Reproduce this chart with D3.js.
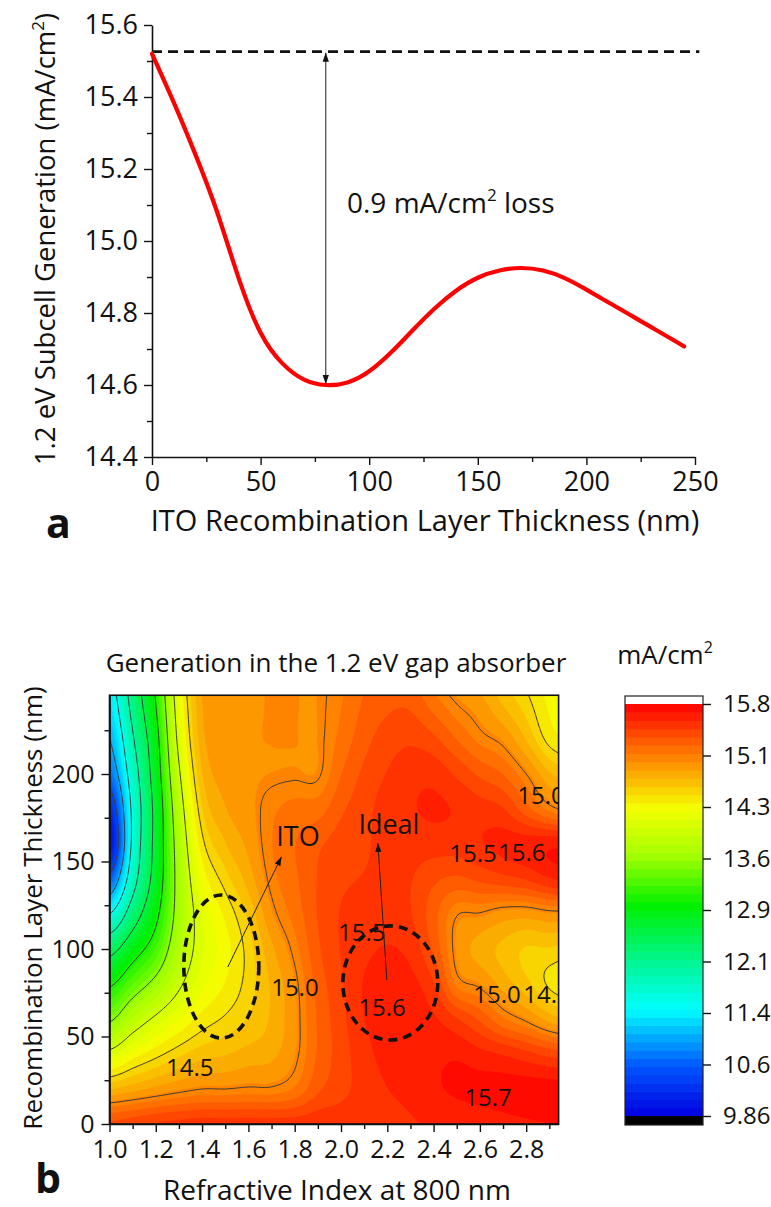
<!DOCTYPE html>
<html>
<head>
<meta charset="utf-8">
<script src="https://cdn.jsdelivr.net/npm/d3@7"></script>
<style>
  body { margin: 0; background: #fff; }
  svg { display: block; font-family: "Open Sans", sans-serif; }
</style>
</head>
<body>
<svg id="chart" width="771" height="1207"></svg>
<script>
// ---------- Panel a: 1.2 eV subcell generation vs ITO thickness ----------
const itoThickness = [0,10,20,30,40,50,60,70,80,90,100,110,120,130,140,150,160,170,180,190,200,210,220,230,240,245];
const subcellGeneration = [15.52,15.385,15.24,15.08,14.895,14.745,14.66,14.615,14.60,14.607,14.638,14.69,14.752,14.812,14.862,14.898,14.918,14.925,14.918,14.897,14.865,14.83,14.795,14.76,14.725,14.707];
const noLayerLevel = 15.526;       // generation without a recombination layer
const lossMinimum = [80, 14.60];   // thickness, generation at the arrow
const axisATicksY = [14.4,14.6,14.8,15.0,15.2,15.4,15.6];
const axisATicksX = [0,50,100,150,200,250];

// ---------- Panel b: generation map (rows: refractive index, columns: thickness) ----------
const refractiveIndex = [1.0,1.1,1.2,1.3,1.4,1.5,1.6,1.7,1.8,1.9,2.0,2.1,2.2,2.3,2.4,2.5,2.6,2.7,2.8,2.9,3.0];
const layerThickness = [0,20,40,60,80,100,120,140,160,180,200,220,240,260];
const generationMap = [
  [15.35,14.72,14.08,13.45,12.95,12.35,11.5,10.6,9.95,10.2,10.7,11.0,11.25,11.4],
  [15.4,14.8,14.3,13.8,13.3,12.8,12.25,11.8,11.6,11.6,11.75,11.95,12.15,12.3],
  [15.45,14.88,14.45,14.05,13.6,13.2,12.9,12.7,12.65,12.65,12.75,12.85,13.0,13.1],
  [15.48,14.95,14.58,14.25,13.95,13.75,13.65,13.65,13.7,13.8,13.95,14.1,14.2,14.3],
  [15.5,15.0,14.68,14.42,14.22,14.12,14.15,14.28,14.45,14.6,14.72,14.8,14.84,14.86],
  [15.5,15.0,14.72,14.52,14.38,14.32,14.4,14.56,14.72,14.84,14.9,14.92,14.93,14.93],
  [15.5,15.02,14.78,14.62,14.55,14.55,14.64,14.78,14.88,14.93,14.95,14.96,14.96,14.96],
  [15.5,15.02,14.82,14.75,14.75,14.82,14.95,15.04,15.08,15.06,14.97,14.97,14.97,14.97],
  [15.5,15.1,14.96,14.94,14.96,15.04,15.13,15.18,15.2,15.13,14.98,14.97,14.97,14.97],
  [15.52,15.3,15.22,15.22,15.25,15.3,15.33,15.33,15.3,15.15,14.98,14.97,14.97,14.97],
  [15.52,15.4,15.38,15.4,15.42,15.45,15.45,15.42,15.38,15.3,15.2,15.12,15.08,15.05],
  [15.52,15.5,15.52,15.56,15.57,15.53,15.48,15.45,15.42,15.4,15.35,15.28,15.22,15.18],
  [15.52,15.56,15.6,15.62,15.62,15.57,15.5,15.48,15.5,15.5,15.45,15.38,15.3,15.25],
  [15.55,15.6,15.62,15.62,15.6,15.52,15.45,15.45,15.5,15.55,15.52,15.42,15.3,15.2],
  [15.58,15.66,15.65,15.58,15.45,15.3,15.25,15.35,15.5,15.58,15.52,15.35,15.15,15.0],
  [15.6,15.7,15.66,15.45,15.06,14.95,15.01,15.3,15.5,15.55,15.42,15.2,15.0,14.85],
  [15.62,15.72,15.6,15.3,14.97,14.8,14.99,15.35,15.55,15.5,15.3,15.05,14.9,14.75],
  [15.65,15.73,15.55,15.1,14.8,14.7,14.92,15.4,15.6,15.45,15.2,14.95,14.72,14.58],
  [15.67,15.74,15.48,14.97,14.65,14.6,14.9,15.45,15.62,15.25,15.0,14.72,14.55,14.45],
  [15.68,15.74,15.4,14.8,14.48,14.6,14.95,15.55,15.65,15.05,14.75,14.45,14.35,14.3],
  [15.68,15.74,15.35,14.7,14.42,14.55,14.95,15.6,15.65,14.95,14.65,14.35,14.25,14.2]
];
const contourLineLevels = [10.5,11.0,11.5,12.0,12.5,13.0,13.5,14.0,14.5,15.0];
const contourLabelText = ["15.0","14.5","15.5","15.6","15.5","15.6","15.7","15.0","15.0","14.5"];
const contourLabelIndex = [1.801,1.347,2.09,2.177,2.57,2.781,2.635,2.864,2.674,2.89];
const contourLabelThickness = [78.3,32.6,109.7,66.9,154.9,155.4,15.4,188,74.3,74.3];
const colorbarRange = [9.86, 15.8];
const colorbarLabels = ["9.86","10.6","11.4","12.1","12.9","13.6","14.3","15.1","15.8"];
const axisBTicksX = [1.0,1.2,1.4,1.6,1.8,2.0,2.2,2.4,2.6,2.8];
const axisBTicksY = [0,50,100,150,200];
// marked regions: [index, thickness, half-width in index, half-height in nm]
const itoRegion = [1.483, 90.0, 0.162, 40.9];
const idealRegion = [2.213, 80.6, 0.205, 32.6];
// arrows: [from index, from thickness, to index, to thickness]
const itoArrow = [1.511, 89.7, 1.743, 152.7];
const idealArrow = [2.198, 82.3, 2.159, 160.6];

const svg = d3.select("#chart");

// arrow heads
const defs = svg.append("defs");
defs.append("marker").attr("id", "head").attr("viewBox", "0 0 10 10")
  .attr("refX", 10).attr("refY", 5).attr("markerWidth", 9).attr("markerHeight", 9)
  .attr("markerUnits", "userSpaceOnUse").attr("orient", "auto-start-reverse")
  .append("path").attr("d", "M0,1.5 L10,5 L0,8.5 Z").attr("fill", "#111");

function styleAxis(g, size) {
  g.selectAll("path.domain").attr("stroke", "#111").attr("stroke-width", 1.6);
  g.selectAll(".tick line").attr("stroke", "#111").attr("stroke-width", 1.4);
  g.selectAll("text").attr("font-size", size).attr("fill", "#111")
    .attr("font-family", "Open Sans, sans-serif");
}
function minorTicks(g) {
  g.select(".domain").remove();
  g.selectAll("line").attr("stroke", "#111").attr("stroke-width", 1.4);
}

// ===================== Panel a =====================
const xA = d3.scaleLinear().domain([0, 250]).range([152, 695]);
const yA = d3.scaleLinear().domain([14.4, 15.6]).range([457, 25]);
const gA = svg.append("g");

gA.append("g").attr("transform", "translate(152,0)")
  .call(d3.axisLeft(yA).tickValues(d3.range(14.5, 15.6, 0.2)).tickSize(5).tickFormat(""))
  .call(minorTicks);
gA.append("g").attr("transform", "translate(0,457)")
  .call(d3.axisBottom(xA).tickValues(d3.range(25, 250, 50)).tickSize(5).tickFormat(""))
  .call(minorTicks);
gA.append("g").attr("transform", "translate(152,0)")
  .call(d3.axisLeft(yA).tickValues(axisATicksY).tickSize(8).tickSizeOuter(0).tickPadding(6).tickFormat(d3.format(".1f")))
  .call(g => styleAxis(g, 27));
gA.append("g").attr("transform", "translate(0,457)")
  .call(d3.axisBottom(xA).tickValues(axisATicksX).tickSize(8).tickSizeOuter(0).tickPadding(7).tickFormat(d3.format("d")))
  .call(g => styleAxis(g, 27));

// reference level and loss arrow
gA.append("line").attr("x1", xA(0)).attr("x2", xA(252)).attr("y1", yA(noLayerLevel)).attr("y2", yA(noLayerLevel))
  .attr("stroke", "#111").attr("stroke-width", 2.6).attr("stroke-dasharray", "10,6");
gA.append("line").attr("x1", xA(lossMinimum[0])).attr("x2", xA(lossMinimum[0]))
  .attr("y1", yA(noLayerLevel) + 1).attr("y2", yA(lossMinimum[1]) - 1)
  .attr("stroke", "#333").attr("stroke-width", 1.1)
  .attr("marker-start", "url(#head)").attr("marker-end", "url(#head)");

gA.append("path").datum(itoThickness.map((t, i) => [t, subcellGeneration[i]]))
  .attr("d", d3.line().x(d => xA(d[0])).y(d => yA(d[1])).curve(d3.curveNatural))
  .attr("fill", "none").attr("stroke", "#ff0000").attr("stroke-width", 4.2).attr("stroke-linecap", "round");

const lossText = gA.append("text").attr("x", 347).attr("y", 213).attr("font-size", 28).attr("fill", "#111");
lossText.append("tspan").text("0.9 mA/cm");
lossText.append("tspan").text("2").attr("font-size", 17).attr("dy", -12);
lossText.append("tspan").text(" loss").attr("dy", 12);

const yTitleA = gA.append("text").attr("transform", "translate(55,239) rotate(-90)")
  .attr("text-anchor", "middle").attr("font-size", 27.5).attr("fill", "#111");
yTitleA.append("tspan").text("1.2 eV Subcell Generation (mA/cm");
yTitleA.append("tspan").text("2").attr("font-size", 17).attr("dy", -11);
yTitleA.append("tspan").text(")").attr("dy", 11);

gA.append("text").attr("x", 425).attr("y", 531).attr("text-anchor", "middle")
  .attr("font-size", 29).attr("fill", "#111").text("ITO Recombination Layer Thickness (nm)");
gA.append("text").attr("x", 46).attr("y", 538).attr("font-size", 41).attr("font-weight", "bold")
  .attr("fill", "#111").text("a");

// ===================== Panel b =====================
const xB = d3.scaleLinear().domain([1.0, 2.94]).range([109.5, 558.6]);
const yB = d3.scaleLinear().domain([0, 245]).range([1124, 695.25]);
const gB = svg.append("g");

// colour map of the generation scale
const colorStops = [9.86, 10.6, 11.4, 12.1, 12.9, 13.6, 14.3, 15.1, 15.8];
const colorMap = d3.scaleLinear().domain(colorStops)
  .range(["#0000e0", "#0058ff", "#00ffff", "#00f590", "#00f000", "#a0ff00", "#f5ff00", "#ff7800", "#ff0000"])
  .interpolate(d3.interpolateRgb).clamp(true);
const bandCount = 50;
const bandStep = (colorbarRange[1] - colorbarRange[0]) / bandCount;
const bandLevels = d3.range(bandCount).map(k => colorbarRange[0] + k * bandStep);
const bandColor = k => colorMap(bandLevels[k] + bandStep / 2);

// bicubic resampling of the map for smooth contour rendering
function catmull(p0, p1, p2, p3, s) {
  return p1 + 0.5 * s * (p2 - p0 + s * (2 * p0 - 5 * p1 + 4 * p2 - p3 + s * (3 * (p1 - p2) + p3 - p0)));
}
const nI = refractiveIndex.length, nT = layerThickness.length;
const dI = refractiveIndex[1] - refractiveIndex[0], dT = layerThickness[1] - layerThickness[0];
const at = (i, j) => generationMap[Math.max(0, Math.min(nI - 1, i))][Math.max(0, Math.min(nT - 1, j))];
function sampleMap(n, t) {
  const fi = Math.max(0, Math.min(nI - 1, (n - refractiveIndex[0]) / dI));
  const fj = Math.max(0, Math.min(nT - 1, (t - layerThickness[0]) / dT));
  const i = Math.min(nI - 2, Math.floor(fi)), j = Math.min(nT - 2, Math.floor(fj));
  const si = fi - i, sj = fj - j;
  const col = k => catmull(at(i + k, j - 1), at(i + k, j), at(i + k, j + 1), at(i + k, j + 2), sj);
  return catmull(col(-1), col(0), col(1), col(2), si);
}
const gridN0 = 0.96, gridStepN = 0.01, gridT0 = -4, gridStepT = 1;
const NX = 206, NY = 266;
const fine = new Float64Array(NX * NY);
for (let j = 0; j < NY; j++) {
  for (let i = 0; i < NX; i++) {
    fine[j * NX + i] = sampleMap(gridN0 + i * gridStepN, gridT0 + j * gridStepT);
  }
}
const gridProjection = d3.geoTransform({
  point: function (x, y) {
    this.stream.point(xB(gridN0 + (x - 0.5) * gridStepN), yB(gridT0 + (y - 0.5) * gridStepT));
  }
});
const gridPath = d3.geoPath(gridProjection);

defs.append("clipPath").attr("id", "plotClip").append("rect")
  .attr("x", xB(1.0)).attr("y", yB(245)).attr("width", xB(2.94) - xB(1.0)).attr("height", yB(0) - yB(245));

const mapLayer = gB.append("g").attr("clip-path", "url(#plotClip)");
mapLayer.append("rect").attr("x", xB(1.0)).attr("y", yB(245))
  .attr("width", xB(2.94) - xB(1.0)).attr("height", yB(0) - yB(245)).attr("fill", bandColor(0));
const fillContours = d3.contours().size([NX, NY]).smooth(true).thresholds(bandLevels.slice(1))(fine);
mapLayer.selectAll("path.band").data(fillContours).join("path").attr("class", "band")
  .attr("d", gridPath).attr("fill", (d, k) => bandColor(k + 1))
  .attr("stroke", (d, k) => bandColor(k + 1)).attr("stroke-width", 0.4);
const lineContours = d3.contours().size([NX, NY]).smooth(true).thresholds(contourLineLevels)(fine);
mapLayer.selectAll("path.level").data(lineContours).join("path").attr("class", "level")
  .attr("d", gridPath).attr("fill", "none").attr("stroke", "#3a3a3a").attr("stroke-width", 1);

// contour labels
mapLayer.selectAll("text.clabel").data(contourLabelText).join("text").attr("class", "clabel")
  .attr("x", (d, i) => xB(contourLabelIndex[i])).attr("y", (d, i) => yB(contourLabelThickness[i]))
  .attr("dy", "0.36em").attr("text-anchor", "middle").attr("font-size", 24).attr("fill", "#111").text(d => d);

// marked regions
[itoRegion, idealRegion].forEach(r => {
  gB.append("ellipse").attr("cx", xB(r[0])).attr("cy", yB(r[1]))
    .attr("rx", xB(r[0] + r[2]) - xB(r[0])).attr("ry", yB(r[1]) - yB(r[1] + r[3]))
    .attr("fill", "none").attr("stroke", "#111").attr("stroke-width", 3.6).attr("stroke-dasharray", "9,6");
});
[itoArrow, idealArrow].forEach(a => {
  gB.append("line").attr("x1", xB(a[0])).attr("y1", yB(a[1])).attr("x2", xB(a[2])).attr("y2", yB(a[3]))
    .attr("stroke", "#222").attr("stroke-width", 1).attr("marker-end", "url(#head)");
});
gB.append("text").attr("x", xB(1.814)).attr("y", yB(158.9)).attr("text-anchor", "middle")
  .attr("font-size", 27).attr("fill", "#111").text("ITO");
gB.append("text").attr("x", xB(2.207)).attr("y", yB(165.7)).attr("text-anchor", "middle")
  .attr("font-size", 27).attr("fill", "#111").text("Ideal");

// frame and axes
gB.append("g").attr("transform", `translate(0,${yB(0)})`)
  .call(d3.axisBottom(xB).tickValues(d3.range(1.1, 2.95, 0.2)).tickSize(5).tickFormat(""))
  .call(minorTicks);
gB.append("g").attr("transform", `translate(${xB(1.0)},0)`)
  .call(d3.axisLeft(yB).tickValues(d3.range(25, 245, 50)).tickSize(5).tickFormat(""))
  .call(minorTicks);
gB.append("g").attr("transform", `translate(0,${yB(0)})`)
  .call(d3.axisBottom(xB).tickValues(axisBTicksX).tickSize(8).tickSizeOuter(0).tickPadding(8).tickFormat(d3.format(".1f")))
  .call(g => styleAxis(g, 25));
gB.append("g").attr("transform", `translate(${xB(1.0)},0)`)
  .call(d3.axisLeft(yB).tickValues(axisBTicksY).tickSize(8).tickSizeOuter(0).tickPadding(7).tickFormat(d3.format("d")))
  .call(g => styleAxis(g, 25));
gB.append("rect").attr("x", xB(1.0)).attr("y", yB(245)).attr("width", xB(2.94) - xB(1.0))
  .attr("height", yB(0) - yB(245)).attr("fill", "none").attr("stroke", "#111").attr("stroke-width", 1.6);

gB.append("text").attr("x", 336).attr("y", 672).attr("text-anchor", "middle")
  .attr("font-size", 26).attr("fill", "#111").text("Generation in the 1.2 eV gap absorber");
gB.append("text").attr("transform", "translate(42,908) rotate(-90)").attr("text-anchor", "middle")
  .attr("font-size", 26).attr("fill", "#111").text("Recombination Layer Thickness (nm)");
gB.append("text").attr("x", 337).attr("y", 1200).attr("text-anchor", "middle")
  .attr("font-size", 28).attr("fill", "#111").text("Refractive Index at 800 nm");
gB.append("text").attr("x", 35).attr("y", 1193).attr("font-size", 41).attr("font-weight", "bold")
  .attr("fill", "#111").text("b");

// ===================== Colour bar =====================
const cbY = d3.scaleLinear().domain(colorbarRange).range([1116, 704]);
const cbX0 = 625, cbX1 = 703;
const gC = svg.append("g");
gC.selectAll("rect.band").data(bandLevels).join("rect").attr("class", "band")
  .attr("x", cbX0).attr("width", cbX1 - cbX0)
  .attr("y", d => cbY(d + bandStep)).attr("height", d => cbY(d) - cbY(d + bandStep) + 0.6)
  .attr("fill", (d, k) => bandColor(k));
gC.append("rect").attr("x", cbX0).attr("width", cbX1 - cbX0).attr("y", 696).attr("height", cbY(colorbarRange[1]) - 696)
  .attr("fill", "#fff");
gC.append("rect").attr("x", cbX0).attr("width", cbX1 - cbX0).attr("y", cbY(colorbarRange[0])).attr("height", 1125 - cbY(colorbarRange[0]))
  .attr("fill", "#000");
gC.append("rect").attr("x", cbX0).attr("width", cbX1 - cbX0).attr("y", 696).attr("height", 1125 - 696)
  .attr("fill", "none").attr("stroke", "#222").attr("stroke-width", 1.2);
const cbTicks = colorbarLabels.map((s, k) => colorbarRange[0] + k * (colorbarRange[1] - colorbarRange[0]) / (colorbarLabels.length - 1));
gC.append("g").attr("transform", `translate(${cbX1},0)`)
  .call(d3.axisRight(cbY).tickValues(cbTicks).tickSize(8).tickPadding(12).tickFormat((d, k) => colorbarLabels[k]))
  .call(g => { g.select(".domain").remove(); styleAxis(g, 24); });
const cbTitle = gC.append("text").attr("x", 665).attr("y", 664).attr("text-anchor", "middle")
  .attr("font-size", 26).attr("fill", "#111");
cbTitle.append("tspan").text("mA/cm");
cbTitle.append("tspan").text("2").attr("font-size", 16).attr("dy", -11);
</script>
</body>
</html>
